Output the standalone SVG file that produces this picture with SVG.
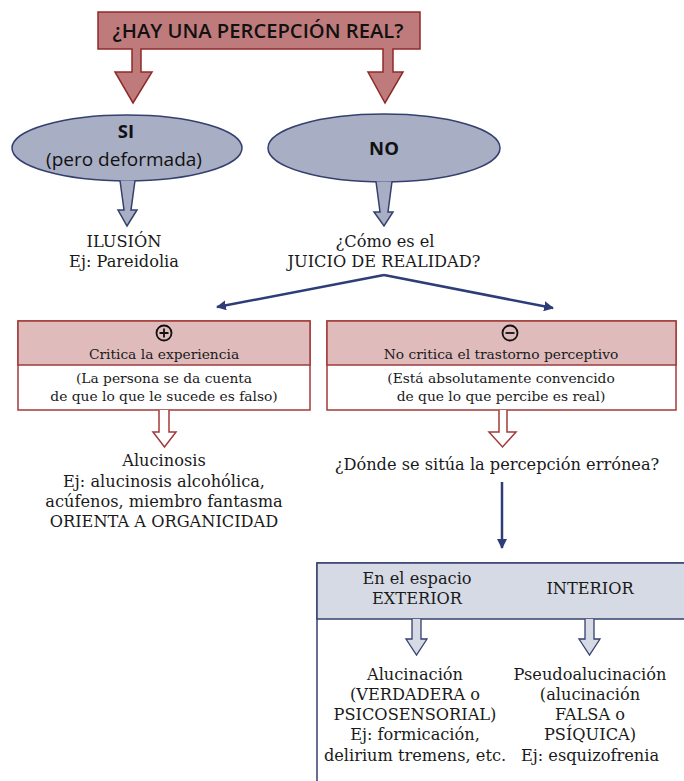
<svg xmlns="http://www.w3.org/2000/svg" width="684" height="781" viewBox="0 0 684 781">
<style>
.sans{font-family:"Open Sans","DejaVu Sans",sans-serif;fill:#111}
.serif{font-family:"DejaVu Serif","Liberation Serif",serif;fill:#1a1a1a}
.t{font-size:16.2px}
.s{font-size:13.8px}
.red{fill:#bf7b7b;stroke:#8e2a2a;stroke-width:1.5}
.ell{fill:#a8aec4;stroke:#34406e;stroke-width:1.5}
.hdr{fill:#dfbbbb;stroke:#a33a3a;stroke-width:1.5}
.box{fill:#fff;stroke:#a33a3a;stroke-width:1.5}
.hol{fill:#fff;stroke:#a33a3a;stroke-width:1.5}
.holb{fill:#d6dae5;stroke:#34406e;stroke-width:1.3}
.blue{fill:none;stroke:#2e3d78;stroke-width:2.5}
</style>
<defs>
<marker id="ah" viewBox="0 0 10 10" refX="9" refY="5" markerWidth="4" markerHeight="4" orient="auto" markerUnits="strokeWidth">
<path d="M0,0 L10,5 L0,10 z" fill="#2e3d78"/>
</marker>
</defs>

<g id="title">
<path class="red" d="M98,12 H420 V49 H393 V72 H403 L385,103 L368,72 H383 V49 H141 V72 H152 L133,103 L115,72 H132 V49 H98 Z"/>
<text class="sans" x="258" y="38" font-size="20.2" font-weight="600" text-anchor="middle">¿HAY UNA PERCEPCIÓN REAL?</text>
</g>

<g id="si">
<ellipse class="ell" cx="127" cy="148" rx="115" ry="33"/>
<path class="ell" d="M120,180.5 L124,210 L118,210 L127,226 L137,210 L131,210 L135,180.5"/>
<text class="sans" x="126" y="138" font-size="18.5" font-weight="bold" text-anchor="middle">SI</text>
<text class="sans" x="124" y="166" font-size="19" text-anchor="middle">(pero deformada)</text>
</g>

<g id="ilusion">
<text class="serif t" x="124" y="247" text-anchor="middle">ILUSIÓN</text>
<text class="serif t" x="124" y="267" text-anchor="middle">Ej: Pareidolia</text>
</g>

<g id="no">
<ellipse class="ell" cx="384" cy="148" rx="116" ry="34"/>
<path class="ell" d="M376,181.5 L380,212 L374,212 L384,226 L393,212 L388,212 L392,181.5"/>
<text class="sans" x="384" y="155" font-size="18.5" font-weight="bold" text-anchor="middle">NO</text>
</g>

<g id="juicio">
<text class="serif t" x="385" y="247" text-anchor="middle">¿Cómo es el</text>
<text class="serif t" x="384" y="267" text-anchor="middle">JUICIO DE REALIDAD?</text>
</g>

<g id="critica">
<rect class="box" x="18" y="321" width="292" height="89"/>
<rect class="hdr" x="18" y="321" width="292" height="44"/>
<circle cx="164" cy="333" r="7.5" fill="none" stroke="#111" stroke-width="1.8"/>
<path d="M159.5,333 H168.5 M164,328.5 V337.5" stroke="#111" stroke-width="1.8"/>
<text class="serif s" x="164" y="359" text-anchor="middle">Critica la experiencia</text>
<text class="serif s" x="164" y="383" text-anchor="middle">(La persona se da cuenta</text>
<text class="serif s" x="164" y="401" text-anchor="middle">de que lo que le sucede es falso)</text>
<path class="hol" d="M159,410 V432 H153 L164.5,447 L176,432 H169 V410"/>
</g>

<g id="alucinosis">
<text class="serif t" x="164" y="466" text-anchor="middle">Alucinosis</text>
<text class="serif t" x="164" y="487" text-anchor="middle">Ej: alucinosis alcohólica,</text>
<text class="serif t" x="164" y="507" text-anchor="middle">acúfenos, miembro fantasma</text>
<text class="serif t" x="164" y="527" text-anchor="middle">ORIENTA A ORGANICIDAD</text>
</g>

<g id="nocritica">
<rect class="box" x="327" y="321" width="349" height="89"/>
<rect class="hdr" x="327" y="321" width="349" height="44"/>
<circle cx="510" cy="333" r="7.5" fill="none" stroke="#111" stroke-width="1.8"/>
<path d="M505.5,333 H514.5" stroke="#111" stroke-width="1.8"/>
<text class="serif s" x="501" y="359" text-anchor="middle">No critica el trastorno perceptivo</text>
<text class="serif s" x="501" y="383" text-anchor="middle">(Está absolutamente convencido</text>
<text class="serif s" x="501" y="401" text-anchor="middle">de que lo que percibe es real)</text>
<path class="hol" d="M499,410 V432 H489 L502.5,447 L516,432 H507 V410"/>
</g>

<g id="donde">
<text class="serif t" x="497" y="470" text-anchor="middle">¿Dónde se sitúa la percepción errónea?</text>
</g>

<g id="espacio">
<rect x="317" y="563" width="380" height="230" fill="#fff" stroke="#34406e" stroke-width="1.5"/>
<rect x="317" y="563" width="380" height="56" fill="#d6dae5" stroke="#34406e" stroke-width="1.5"/>
<text class="serif t" x="417" y="584" text-anchor="middle">En el espacio</text>
<text class="serif t" x="417" y="604" text-anchor="middle">EXTERIOR</text>
<text class="serif t" x="590" y="594" text-anchor="middle">INTERIOR</text>
<path class="holb" d="M412,619 V639 H406 L416.5,655 L427,639 H421 V619"/>
<path class="holb" d="M585,619 V639 H579 L589.5,655 L600,639 H594 V619"/>
</g>

<g id="alucinacion">
<text class="serif t" x="415" y="680" text-anchor="middle">Alucinación</text>
<text class="serif t" x="415" y="700" text-anchor="middle">(VERDADERA o</text>
<text class="serif t" x="415" y="720" text-anchor="middle">PSICOSENSORIAL)</text>
<text class="serif t" x="415" y="740" text-anchor="middle">Ej: formicación,</text>
<text class="serif t" x="415" y="761" text-anchor="middle">delirium tremens, etc.</text>
</g>

<g id="pseudo">
<text class="serif t" x="590" y="680" text-anchor="middle">Pseudoalucinación</text>
<text class="serif t" x="590" y="700" text-anchor="middle">(alucinación</text>
<text class="serif t" x="590" y="720" text-anchor="middle">FALSA o</text>
<text class="serif t" x="590" y="740" text-anchor="middle">PSÍQUICA)</text>
<text class="serif t" x="590" y="761" text-anchor="middle">Ej: esquizofrenia</text>
</g>

<g id="connectors">
<path class="blue" d="M384,275 L217,307" marker-end="url(#ah)"/>
<path class="blue" d="M384,275 L553,308" marker-end="url(#ah)"/>
<path class="blue" d="M502,482 V548" marker-end="url(#ah)"/>
</g>
</svg>
